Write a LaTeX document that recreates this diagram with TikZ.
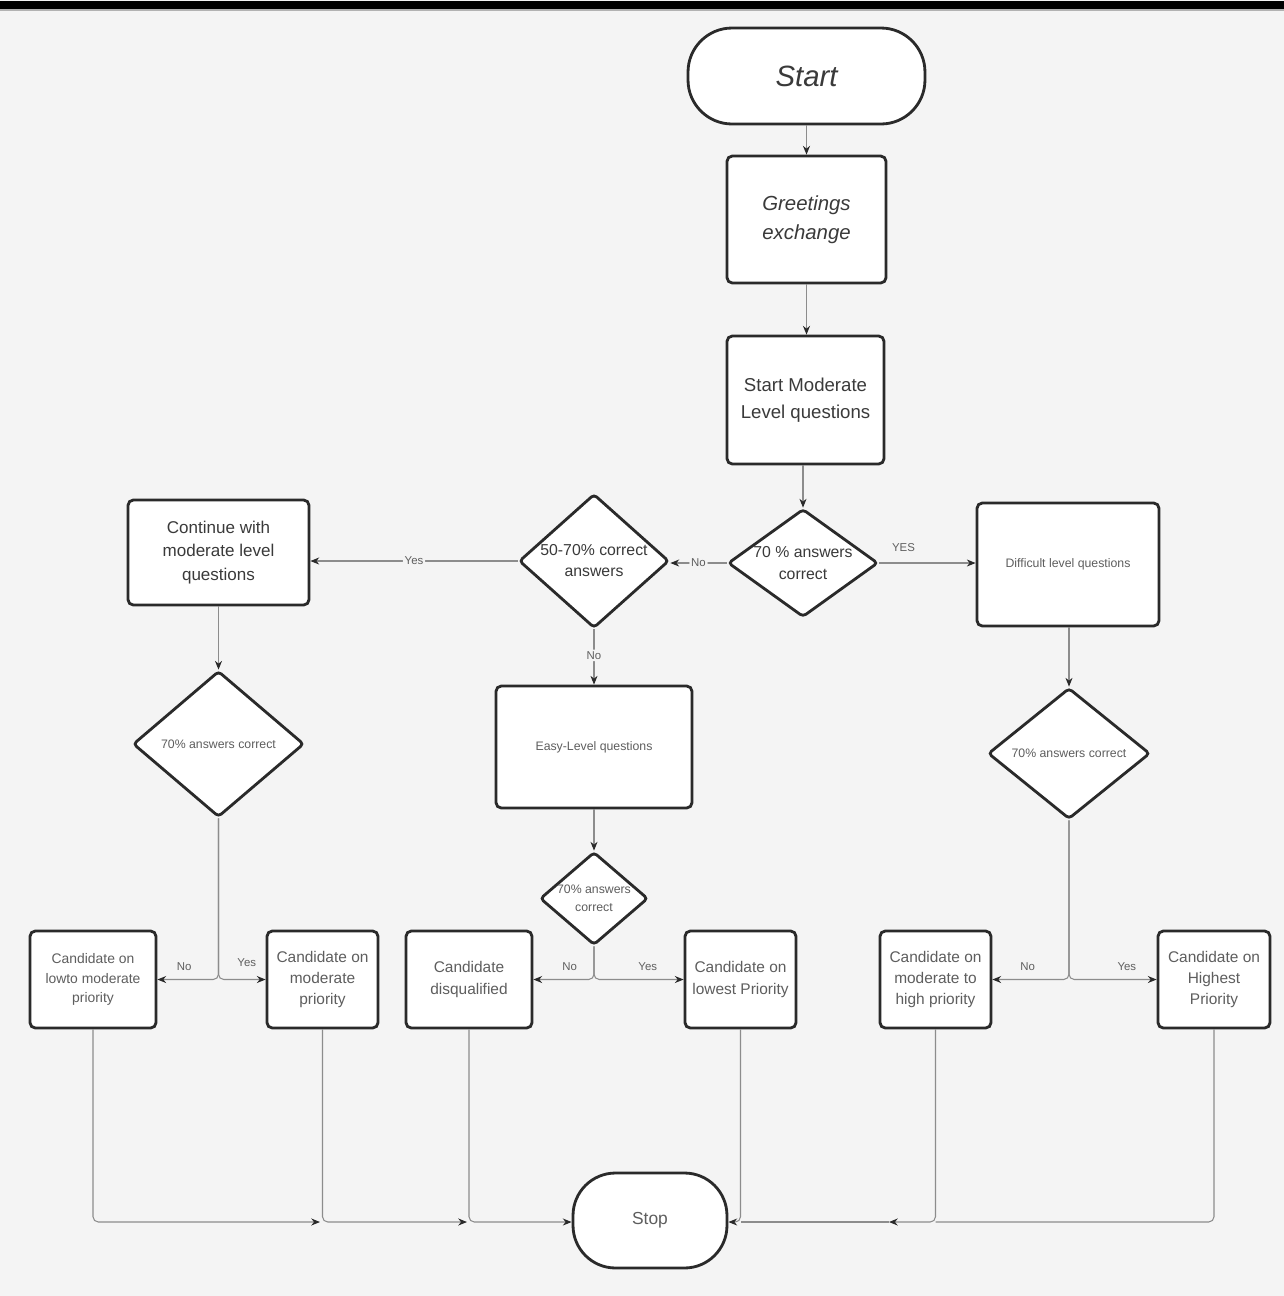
\documentclass[tikz,border=0pt]{standalone}
\usepackage{fontspec}
\setmainfont{Liberation Sans}
\usetikzlibrary{shapes.geometric,arrows.meta}
\definecolor{bg}{HTML}{F4F4F4}
\definecolor{edge}{HTML}{2A2A2A}
\definecolor{wire}{HTML}{8C8C8C}
\definecolor{txt}{HTML}{3A3A3A}
\definecolor{txtl}{HTML}{5E5E5E}
\begin{document}
\begin{tikzpicture}[x=0.02cm,y=-0.02cm,
  box/.style={draw=edge, line width=1.6pt, fill=white, rounded corners=3pt, align=center, inner sep=0pt, text=txt},
  term/.style={box, rounded corners=0.88cm},
  dia/.style={draw=edge, line width=1.6pt, fill=white, diamond, inner sep=0pt, rounded corners=2pt},
  dtext/.style={align=center, text=txt, inner sep=0pt},
  conn/.style={draw=wire, line width=0.6pt, -{Stealth[length=5pt,width=4pt,color=edge]}, rounded corners=3pt},
  wireline/.style={draw=wire, line width=0.6pt, rounded corners=3pt},
  lbl/.style={font=\fontsize{6.5}{7}\selectfont, text=txtl, inner sep=1pt},
  lblf/.style={lbl, fill=bg},
  fsmall/.style={font=\fontsize{7}{9}\selectfont, text=txtl},
  fcand/.style={font=\fontsize{8.8}{12.2}\selectfont, text=txtl}
]
\useasboundingbox (0,0) rectangle (1284,1296);
\fill[bg] (0,0) rectangle (1284,1296);
\fill[black] (0,1) rectangle (1284,9);
\fill[gray!60] (0,9) rectangle (1284,11);

% main column
\node[term, minimum width=4.74cm, minimum height=1.92cm, font=\fontsize{16.7}{20}\selectfont\itshape] (start) at (806.5,76) {Start};
\node[box, minimum width=3.18cm, minimum height=2.54cm, font=\fontsize{11.6}{16.4}\selectfont\itshape] (greet) at (806.5,219.5) {Greetings\\exchange};
\node[box, minimum width=3.14cm, minimum height=2.56cm, font=\fontsize{10.6}{15.3}\selectfont] (smod) at (805.5,400) {Start Moderate\\Level questions};

\node[dia, minimum width=3.0cm, minimum height=2.16cm,
  label={[dtext, font=\fontsize{9}{12.4}\selectfont]center:{70 \% answers\\correct}}] (d1) at (803,563) {};
\node[dia, minimum width=3.0cm, minimum height=2.68cm,
  label={[dtext, font=\fontsize{9}{12}\selectfont]center:{50-70\% correct\\answers}}] (d2) at (594,561) {};

\node[box, minimum width=3.62cm, minimum height=2.10cm, font=\fontsize{9.7}{13.6}\selectfont] (cont) at (218.5,552.5) {Continue with\\moderate level\\questions};
\node[box, minimum width=3.64cm, minimum height=2.46cm, fsmall] (diff) at (1068,564.5) {Difficult level questions};

\node[dia, minimum width=3.42cm, minimum height=2.92cm,
  label={[dtext, fsmall]center:{70\% answers correct}}] (d3) at (218.5,744) {};
\node[box, minimum width=3.92cm, minimum height=2.44cm, fsmall] (easy) at (594,747) {Easy-Level questions};
\node[dia, minimum width=3.24cm, minimum height=2.62cm,
  label={[dtext, fsmall]center:{70\% answers correct}}] (d4) at (1069,753.5) {};
\node[dia, minimum width=2.16cm, minimum height=1.86cm,
  label={[dtext, font=\fontsize{7}{10}\selectfont, text=txtl]center:{70\% answers\\correct}}] (d5) at (594,898.5) {};

% result boxes
\node[box, minimum width=2.52cm, minimum height=1.94cm, font=\fontsize{7.9}{11}\selectfont, text=txtl] (b1) at (93,979.5) {Candidate on\\lowto moderate\\priority};
\node[box, minimum width=2.22cm, minimum height=1.94cm, fcand] (b2) at (322.5,979.5) {Candidate on\\moderate\\priority};
\node[box, minimum width=2.52cm, minimum height=1.94cm, fcand] (b3) at (469,979.5) {Candidate\\disqualified};
\node[box, minimum width=2.22cm, minimum height=1.94cm, fcand] (b4) at (740.5,979.5) {Candidate on\\lowest Priority};
\node[box, minimum width=2.22cm, minimum height=1.94cm, fcand] (b5) at (935.5,979.5) {Candidate on\\moderate to\\high priority};
\node[box, minimum width=2.24cm, minimum height=1.94cm, fcand] (b6) at (1214,979.5) {Candidate on\\Highest\\Priority};

\node[term, minimum width=3.08cm, minimum height=1.90cm, rounded corners=0.85cm, font=\fontsize{9.9}{12}\selectfont, text=txtl] (stop) at (650,1220.5) {Stop};

% connectors, top part
\draw[conn] (start) -- (greet);
\draw[conn] (greet.south) -- (greet.south |- smod.north);
\draw[conn] (smod.south -| d1.north) -- (d1.north);
\draw[conn] (d1.west) -- (d1.west -| d2.east) node[lblf, pos=0.5] {No};
\draw[conn] (d1.east) -- (d1.east -| diff.west) node[lbl, pos=0.25, above=5pt] {YES};
\draw[conn] (d2.west) -- (d2.west -| cont.east) node[lblf, pos=0.5] {Yes};
\draw[conn] (d2.south) -- (easy.north) node[lblf, pos=0.47] {No};
\draw[conn] (cont.south) -- (d3.north);
\draw[conn] (diff.south -| d4.north) -- (d4.north);
\draw[conn] (easy.south) -- (d5.north);

% decision splits
\coordinate (s3) at (218.5,981);
\coordinate (s5) at (594,981);
\coordinate (s4) at (1069,981);
\draw[conn] (d3.south) |- (b1.east) node[lbl, pos=0.78, above=4pt] {No};
\draw[conn] (d3.south) |- (b2.west) node[lbl, pos=0.8, above=6pt] {Yes};
\draw[conn] (d5.south) |- (b3.east) node[lbl, pos=0.7, above=4pt] {No};
\draw[conn] (d5.south) |- (b4.west) node[lbl, pos=0.8, above=4pt] {Yes};
\draw[conn] (d4.south) |- (b5.east) node[lbl, pos=0.77, above=4pt] {No};
\draw[conn] (d4.south) |- (b6.west) node[lbl, pos=0.83, above=4pt] {Yes};

% bottom bus to Stop
\coordinate (m1) at (320,1222);
\coordinate (m2) at (467,1222);
\coordinate (m3) at (889,1222);
\draw[conn] (b1.south) |- (m1);
\draw[conn] (b2.south) |- (m2);
\draw[conn] (b3.south) |- (stop.west |- m1);
\draw[conn] (b4.south) |- (stop.east |- m1);
\draw[conn] (b5.south) |- (m3);
\draw[wireline] (m3) -- (b4.south |- m3);
\draw[wireline] (b6.south) |- (b5.south |- m3);
\end{tikzpicture}
\end{document}
